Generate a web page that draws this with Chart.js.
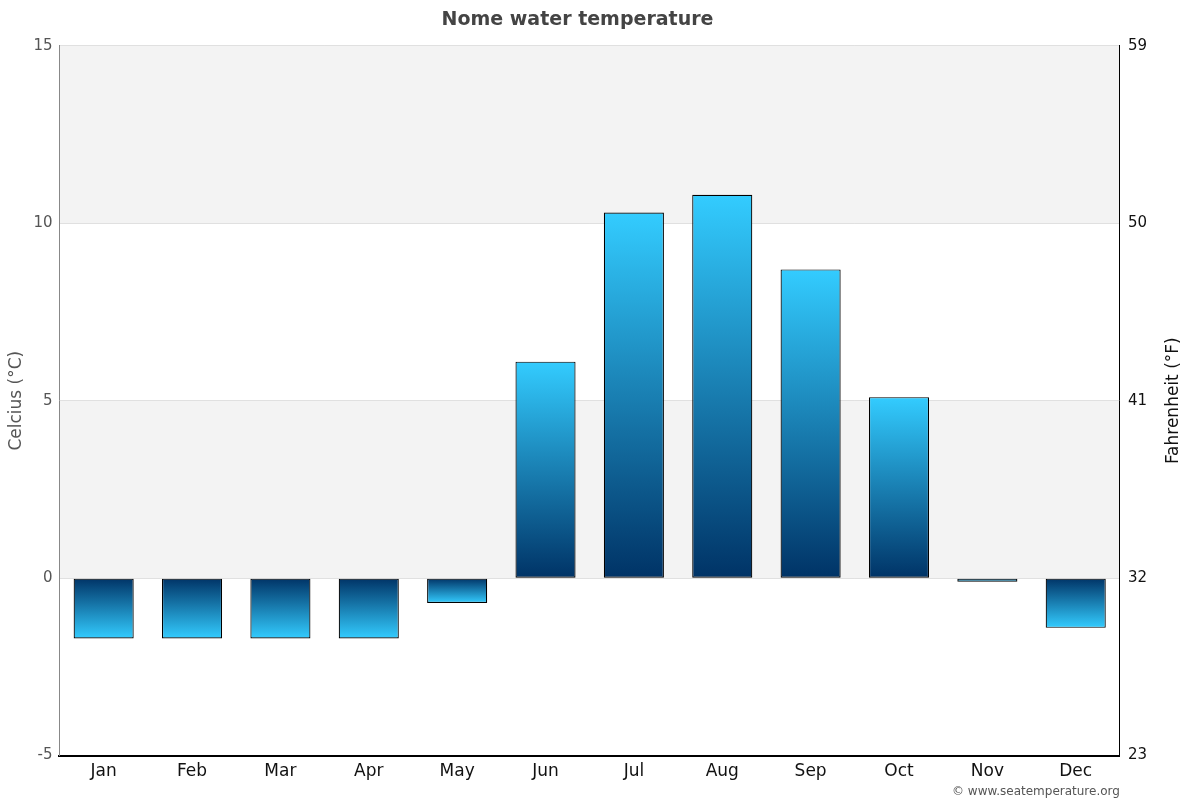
<!DOCTYPE html>
<html>
<head>
<meta charset="utf-8">
<title>Nome water temperature</title>
<script src="https://cdn.jsdelivr.net/npm/chart.js@4.4.1/dist/chart.umd.min.js"></script>
<style>
  html, body { margin: 0; padding: 0; background: #fff; }
  #wrap { width: 1200px; height: 800px; }
</style>
</head>
<body>
<div id="wrap"><canvas id="chart"></canvas></div>
<script>
const months = ['Jan', 'Feb', 'Mar', 'Apr', 'May', 'Jun', 'Jul', 'Aug', 'Sep', 'Oct', 'Nov', 'Dec']
const waterTempC = [-1.7, -1.7, -1.7, -1.7, -0.7, 6.1, 10.3, 10.8, 8.7, 5.1, -0.1, -1.4]
const celsiusTicks = [-5, 0, 5, 10, 15]
const fahrenheitTicks = [23, 32, 41, 50, 59]
const shadedBands = [[10, 15], [0, 5]]

Chart.defaults.font.family = '"DejaVu Sans", Verdana, sans-serif'

// grey bands behind the grid
const bandsPlugin = {
  id: 'bands',
  beforeDraw(chart) {
    const { ctx, chartArea, scales } = chart
    ctx.save()
    ctx.fillStyle = '#ffffff'
    ctx.fillRect(0, 0, chart.width, chart.height)
    ctx.fillStyle = '#f3f3f3'
    shadedBands.forEach(([lo, hi]) => {
      const top = scales.y.getPixelForValue(hi)
      const bottom = scales.y.getPixelForValue(lo)
      ctx.fillRect(chartArea.left, top, chartArea.right - chartArea.left, bottom - top)
    })
    ctx.restore()
  }
}

// credit line + right axis title (reads bottom to top like the left one)
const extrasPlugin = {
  id: 'extras',
  afterDraw(chart) {
    const { ctx, chartArea } = chart
    ctx.save()
    ctx.font = '12px "DejaVu Sans", sans-serif'
    ctx.fillStyle = '#555'
    ctx.textAlign = 'right'
    ctx.textBaseline = 'middle'
    ctx.fillText('© www.seatemperature.org', chartArea.right, 792)

    ctx.translate(1174, (chartArea.top + chartArea.bottom) / 2)
    ctx.rotate(-Math.PI / 2)
    ctx.font = '17px "DejaVu Sans", sans-serif'
    ctx.fillStyle = '#111'
    ctx.textAlign = 'center'
    ctx.fillText('Fahrenheit (°F)', 0, 0)
    ctx.restore()
  }
}

function barGradient(context) {
  const { chart } = context
  const { chartArea, scales } = chart
  if (!chartArea || context.type !== 'data') return '#1e88c0'
  const yEnd = scales.y.getPixelForValue(context.raw)
  const yZero = scales.y.getPixelForValue(0)
  if (Math.abs(yEnd - yZero) < 0.5) return '#1e88c0'
  const g = chart.ctx.createLinearGradient(0, yEnd, 0, yZero)
  g.addColorStop(0, '#33ccff')
  g.addColorStop(1, '#003366')
  return g
}

const chart = new Chart(document.getElementById('chart'), {
  type: 'bar',
  data: {
    labels: months,
    datasets: [{
      label: 'Water temperature',
      data: waterTempC,
      backgroundColor: barGradient,
      borderColor: '#000',
      borderWidth: 1.2,
      borderSkipped: false,
      categoryPercentage: 0.85,
      barPercentage: 0.8,
      yAxisID: 'y'
    }]
  },
  options: {
    responsive: true,
    maintainAspectRatio: false,
    animation: false,
    layout: {
      padding: { left: 0, right: 45, top: 1, bottom: 12 }
    },
    plugins: {
      legend: { display: false },
      tooltip: { enabled: false },
      title: {
        display: true,
        text: 'Nome water temperature',
        color: '#444',
        font: { size: 19, weight: 'bold' },
        padding: { top: 8, bottom: 14 }
      }
    },
    scales: {
      x: {
        grid: { display: false, drawTicks: false },
        border: { display: true, color: '#000', width: 2 },
        ticks: { color: '#111', font: { size: 17 }, padding: 6 }
      },
      y: {
        position: 'left',
        min: -5,
        max: 15,
        afterBuildTicks: axis => { axis.ticks = celsiusTicks.map(v => ({ value: v })) },
        grid: { color: '#e0e0e0', drawTicks: false },
        border: { display: true, color: '#888', width: 1 },
        ticks: { color: '#555', font: { size: 15 }, padding: 7 },
        title: { display: true, text: 'Celcius (°C)', color: '#555', font: { size: 17 }, padding: { top: 6, bottom: 0 } }
      },
      y2: {
        position: 'right',
        display: true,
        min: 23,
        max: 59,
        afterBuildTicks: axis => { axis.ticks = fahrenheitTicks.map(v => ({ value: v })) },
        grid: { display: false, drawTicks: false },
        border: { display: true, color: '#000', width: 1 },
        ticks: { color: '#111', font: { size: 15 }, padding: 8 }
      }
    }
  },
  plugins: [bandsPlugin, extrasPlugin]
})
</script>
</body>
</html>
